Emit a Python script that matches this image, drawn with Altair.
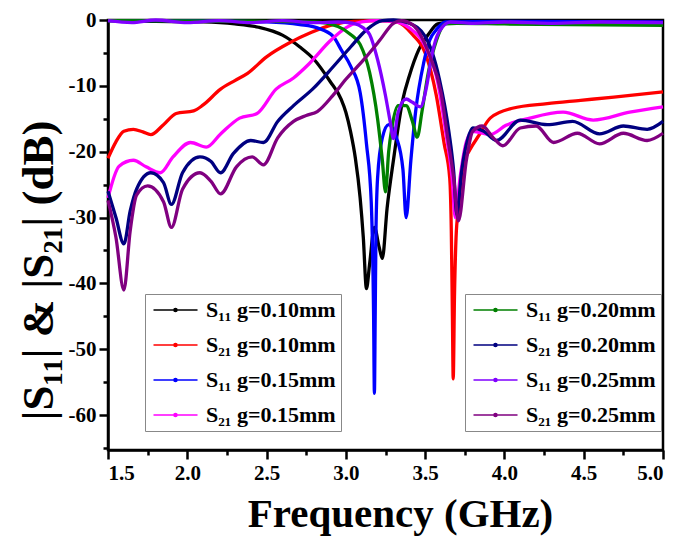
import altair as alt
import pandas as pd

FONT = "Liberation Serif"

# ---------------- data ----------------
f_s11_010 = [1.5, 1.8, 2.1, 2.3, 2.45, 2.6, 2.71, 2.8, 2.9, 2.97, 3.0, 3.03, 3.06, 3.09, 3.11, 3.13, 3.15, 3.18, 3.21, 3.23, 3.26, 3.3, 3.36, 3.4, 3.46, 3.52, 3.58, 3.7, 4.0, 4.5, 5.0]
db_s11_010 = [-0.1, -0.2, -0.3, -0.6, -1.1, -2.3, -4.1, -6.0, -9.3, -12.0, -14.0, -17.0, -21.0, -27.0, -33.0, -40.8, -37.0, -31.5, -34.5, -36.2, -28.6, -21.3, -12.0, -8.5, -4.5, -2.2, -0.6, -0.2, -0.2, -0.2, -0.3]

f_s21_010 = [1.5, 1.55, 1.6, 1.66, 1.72, 1.77, 1.85, 1.93, 2.04, 2.1, 2.21, 2.3, 2.38, 2.5, 2.65, 2.78, 2.92, 3.05, 3.2, 3.32, 3.42, 3.5, 3.57, 3.62, 3.655, 3.665, 3.672, 3.677, 3.685, 3.695, 3.71, 3.74, 3.78, 3.84, 3.91, 4.05, 4.27, 4.48, 4.69, 5.0]
db_s21_010 = [-21.0, -18.5, -16.9, -16.6, -17.0, -17.4, -15.9, -14.2, -13.8, -12.9, -10.5, -9.2, -8.1, -5.6, -3.4, -1.9, -0.7, -0.2, -0.1, -0.3, -2.2, -5.0, -11.4, -18.8, -24.0, -32.0, -45.0, -54.5, -42.0, -33.0, -28.6, -22.0, -19.8, -17.5, -14.9, -13.4, -12.7, -12.2, -11.7, -10.9]

f_s11_015 = [1.5, 2.0, 2.5, 2.71, 2.82, 2.92, 2.97, 3.03, 3.09, 3.13, 3.16, 3.175, 3.18, 3.185, 3.19, 3.2, 3.23, 3.27, 3.32, 3.36, 3.38, 3.41, 3.44, 3.49, 3.53, 3.57, 3.63, 4.0, 5.0]
db_s11_015 = [-0.1, -0.1, -0.3, -0.7, -1.2, -2.5, -4.5, -7.0, -11.0, -18.8, -27.6, -45.0, -56.7, -45.0, -32.0, -24.0, -17.9, -15.9, -17.9, -22.7, -30.0, -21.3, -13.9, -6.6, -3.0, -1.5, -0.3, -0.2, -0.3]

f_s21_015 = [1.5, 1.57, 1.66, 1.74, 1.83, 1.91, 2.02, 2.12, 2.21, 2.33, 2.44, 2.56, 2.67, 2.77, 2.9, 3.0, 3.1, 3.2, 3.3, 3.4, 3.5, 3.58, 3.63, 3.67, 3.69, 3.72, 3.76, 3.8, 3.91, 4.01, 4.16, 4.37, 4.56, 4.79, 5.0]
db_s21_015 = [-27.0, -22.2, -21.3, -22.3, -23.2, -20.8, -18.6, -19.3, -17.3, -14.9, -14.2, -10.5, -8.8, -6.6, -3.2, -1.2, -0.3, -0.1, -0.2, -1.2, -4.0, -9.5, -17.0, -24.0, -30.0, -24.0, -18.5, -16.9, -17.4, -16.0, -14.9, -14.0, -15.2, -14.0, -13.2]

f_s11_020 = [1.5, 2.5, 2.8, 2.95, 3.03, 3.09, 3.15, 3.2, 3.23, 3.25, 3.27, 3.29, 3.33, 3.38, 3.42, 3.45, 3.48, 3.52, 3.57, 3.63, 3.7, 4.0, 5.0]
db_s11_020 = [-0.1, -0.2, -0.3, -1.0, -2.2, -3.7, -8.0, -15.0, -21.3, -26.1, -20.0, -16.4, -13.0, -13.0, -15.4, -17.8, -13.9, -8.0, -3.2, -0.6, -0.5, -0.6, -0.8]

f_s21_020 = [1.5, 1.55, 1.6, 1.64, 1.68, 1.77, 1.85, 1.9, 1.97, 2.08, 2.15, 2.21, 2.29, 2.4, 2.48, 2.57, 2.67, 2.79, 2.92, 3.03, 3.13, 3.23, 3.3, 3.4, 3.5, 3.59, 3.65, 3.68, 3.7, 3.73, 3.77, 3.8, 3.87, 3.95, 4.1, 4.27, 4.43, 4.6, 4.75, 4.9, 5.0]
db_s21_020 = [-26.0, -30.0, -34.0, -29.0, -25.7, -23.2, -24.7, -28.0, -23.2, -20.8, -21.5, -23.2, -20.3, -18.3, -18.6, -15.4, -13.0, -10.5, -7.1, -4.1, -1.5, -0.1, 0.0, -0.5, -2.5, -9.0, -17.0, -23.0, -29.6, -23.0, -18.0, -16.4, -16.9, -18.3, -15.2, -15.9, -15.4, -17.3, -16.1, -16.6, -15.4]

f_s11_025 = [1.5, 1.65, 1.8, 2.0, 2.2, 2.4, 2.6, 2.8, 2.95, 3.05, 3.11, 3.15, 3.2, 3.25, 3.28, 3.3, 3.33, 3.38, 3.42, 3.47, 3.51, 3.54, 3.59, 3.66, 3.8, 4.0, 4.3, 4.6, 5.0]
db_s11_025 = [-0.1, -0.4, 0.0, -0.4, -0.1, -0.4, -0.1, -0.4, -0.3, -0.5, -1.2, -2.2, -6.0, -11.5, -15.5, -18.0, -14.0, -12.0, -12.5, -13.2, -10.0, -5.6, -1.7, -0.3, -0.5, -0.3, -0.5, -0.3, -0.4]

f_s21_025 = [1.5, 1.55, 1.6, 1.64, 1.68, 1.75, 1.85, 1.9, 1.97, 2.08, 2.15, 2.21, 2.31, 2.41, 2.48, 2.57, 2.67, 2.75, 2.82, 2.92, 3.0, 3.11, 3.21, 3.3, 3.35, 3.42, 3.53, 3.6, 3.64, 3.68, 3.71, 3.76, 3.8, 3.86, 3.93, 3.99, 4.1, 4.2, 4.31, 4.46, 4.6, 4.75, 4.9, 5.0]
db_s21_025 = [-27.4, -33.0, -41.0, -32.0, -26.6, -25.2, -27.6, -31.5, -25.7, -23.2, -24.5, -26.4, -22.3, -20.8, -22.0, -17.9, -15.4, -14.5, -13.9, -11.4, -9.0, -6.1, -3.2, -0.5, -0.1, -0.7, -5.5, -11.0, -17.5, -24.0, -30.5, -21.3, -16.9, -16.1, -17.9, -19.1, -16.4, -16.1, -18.6, -17.2, -18.8, -17.2, -18.3, -17.2]

labels = ["S₁₁ g=0.10mm", "S₂₁ g=0.10mm", "S₁₁ g=0.15mm", "S₂₁ g=0.15mm",
          "S₁₁ g=0.20mm", "S₂₁ g=0.20mm", "S₁₁ g=0.25mm", "S₂₁ g=0.25mm"]
colors = ["#000000", "#ff0000", "#0000ff", "#ff00ff",
          "#008000", "#000080", "#8000ff", "#800080"]

series = [
    (f_s11_010, db_s11_010), (f_s21_010, db_s21_010),
    (f_s11_015, db_s11_015), (f_s21_015, db_s21_015),
    (f_s11_020, db_s11_020), (f_s21_020, db_s21_020),
    (f_s11_025, db_s11_025), (f_s21_025, db_s21_025),
]

rows = []
for i, (fs, ds) in enumerate(series):
    for k, (f, d) in enumerate(zip(fs, ds)):
        rows.append({"f": f, "db": d, "series": labels[i], "idx": k, "grp": 0 if i < 4 else 1})
df = pd.DataFrame(rows)

x_ticks = [1.5 + 0.25 * i for i in range(15)]
y_ticks = [-65 + 5 * i for i in range(14)]

x_enc = alt.X("f:Q", scale=alt.Scale(domain=[1.5, 5.0], nice=False, zero=False),
              axis=alt.Axis(values=x_ticks, title="Frequency (GHz)",
                            labelExpr="(datum.value*4) % 2 == 0 ? format(datum.value, '.1f') : ''",
                            tickSize={"condition": {"test": "(datum.value*4) % 2 != 0", "value": 5}, "value": 9},
                            labelFont=FONT, labelFontWeight="bold", labelFontSize=21,
                            titleFont=FONT, titleFontWeight="bold", titleFontSize=41,
                            titleX=292, titleAlign="center", titlePadding=11,
                            grid=False))
y_enc = alt.Y("db:Q", scale=alt.Scale(domain=[-65.3, 0], nice=False, zero=False),
              axis=alt.Axis(values=y_ticks, title="|S₁₁| & |S₂₁| (dB)",
                            labelExpr="datum.value % 10 == 0 ? replace(format(datum.value, 'd'), '−', '-') : ''",
                            tickSize={"condition": {"test": "datum.value % 10 != 0", "value": 5}, "value": 9},
                            labelFont=FONT, labelFontWeight="bold", labelFontSize=21,
                            titleFont=FONT, titleFontWeight="bold", titleFontSize=45,
                            titleY=250, titleAlign="center",
                            titlePadding=7, grid=False))

SYM = "M-1,0H4.87M1.73,0a0.2,0.2 0 1,0 0.4,0a0.2,0.2 0 1,0 -0.4,0"


def legend(x, y):
    return alt.Legend(orient="none", legendX=x, legendY=y, title=None,
                      symbolType=SYM, symbolSize=225, symbolStrokeWidth=1.6,
                      labelOffset=34, labelFont=FONT, labelFontWeight="bold",
                      labelFontSize=22, labelColor="black", labelLimit=400,
                      rowPadding=13, padding=5, strokeColor="#888888",
                      fillColor="white")


layer_a = alt.Chart(df[df.grp == 0]).mark_line(strokeWidth=3.3, interpolate="monotone").encode(
    x=x_enc, y=y_enc, order="idx:Q",
    color=alt.Color("series:N", scale=alt.Scale(domain=labels[:4], range=colors[:4]),
                    legend=legend(37, 274)))
layer_b = alt.Chart(df[df.grp == 1]).mark_line(strokeWidth=3.3, interpolate="monotone").encode(
    x=x_enc, y=y_enc, order="idx:Q",
    color=alt.Color("series:N", scale=alt.Scale(domain=labels[4:], range=colors[4:]),
                    legend=legend(357, 274)))

chart = alt.layer(layer_a, layer_b).resolve_scale(color="independent").properties(
    width=555, height=430,
    autosize=alt.AutoSizeParams(type="none"),
    padding={"left": 100, "top": 12, "right": 10, "bottom": 89},
    background="white",
).configure_view(stroke="black", strokeWidth=2.5).configure_axis(
    domainColor="black", domainWidth=2.5, tickColor="black", tickWidth=2.5,
    labelColor="black", labelPadding=3, titleColor="black",
)

chart.save("out.html", embed_options={"renderer": "svg", "actions": False})
